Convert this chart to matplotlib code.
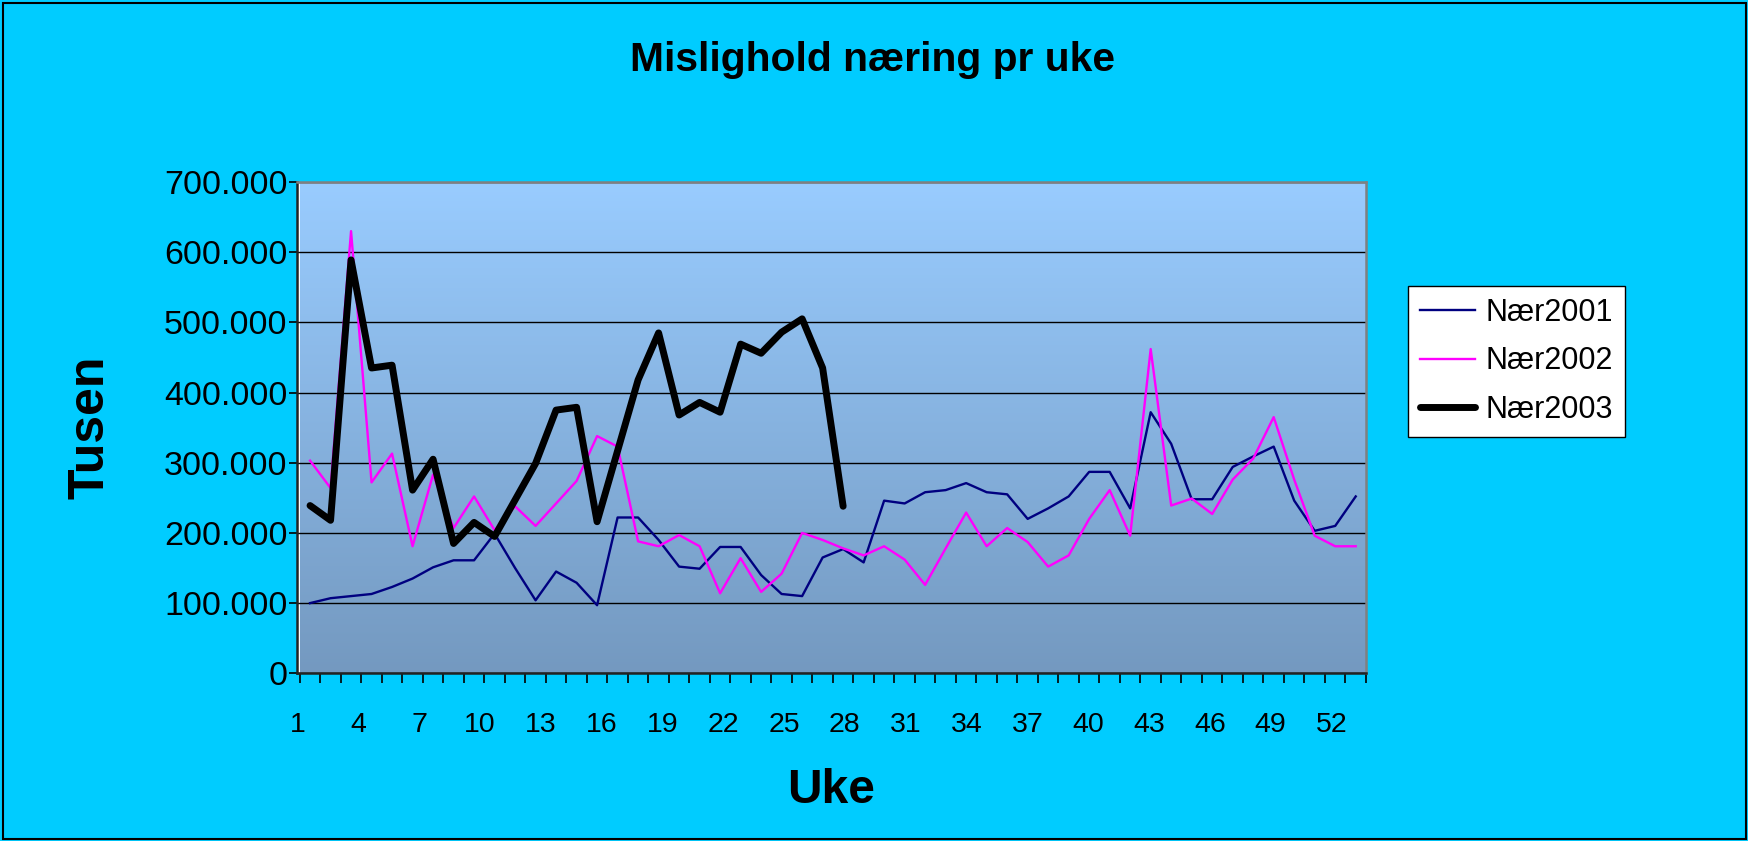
import numpy as np
import matplotlib
matplotlib.use('Agg')
import matplotlib.pyplot as plt
from matplotlib.colors import LinearSegmentedColormap
from matplotlib.patches import Rectangle
from matplotlib.ticker import FuncFormatter

# Data (tusen)
weeks = list(range(1, 53))
naer2001 = [100, 107, 110, 113, 123, 135, 151, 161, 161, 199, 150, 104, 145, 129,
            97, 222, 222, 190, 152, 149, 180, 180, 140, 113, 110, 165, 177, 158,
            246, 242, 258, 261, 271, 258, 255, 220, 235, 252, 287, 287, 235, 372,
            327, 248, 248, 294, 309, 323, 246, 203, 210, 252]
naer2002 = [303, 264, 630, 272, 313, 181, 283, 207, 252, 204, 238, 210, 242, 274,
            338, 323, 188, 181, 197, 181, 114, 164, 116, 142, 200, 190, 178, 168,
            181, 162, 126, 178, 229, 181, 207, 187, 152, 168, 220, 261, 196, 462,
            239, 249, 227, 276, 306, 365, 276, 196, 181, 181]
naer2003 = [239, 218, 589, 435, 439, 261, 305, 185, 215, 195, 247, 299, 375, 379,
            216, 317, 418, 485, 368, 386, 372, 469, 456, 486, 505, 435, 238]
series_names = ['Nær2001', 'Nær2002', 'Nær2003']
label_weeks = list(range(1, 53, 3))

plt.rcParams['font.family'] = ['Liberation Sans', 'DejaVu Sans']

fig = plt.figure(figsize=(17.49, 8.41), dpi=100, facecolor='#00CCFF')
ax = fig.add_axes([0.170, 0.1994, 0.611, 0.5842])

# bakgrunn med gradient
cmap = LinearSegmentedColormap.from_list('bg', ['#7499C0', '#99CCFF'])
ax.imshow(np.linspace(0, 1, 256).reshape(-1, 1), cmap=cmap, origin='lower',
          extent=[0.5, 52.5, 0, 700000], aspect='auto', zorder=0)

x1 = np.array(weeks[:len(naer2001)])
x3 = np.array(weeks[:len(naer2003)])
ax.plot(x1, np.array(naer2001) * 1000, color='#000080', lw=1.7, label=series_names[0], zorder=3)
ax.plot(x1, np.array(naer2002) * 1000, color='#FF00FF', lw=1.7, label=series_names[1], zorder=3)
ax.plot(x3, np.array(naer2003) * 1000, color='black', lw=5, label=series_names[2], zorder=4,
        solid_joinstyle='round', solid_capstyle='round')

ax.set_xlim(0.5, 52.5)
ax.set_ylim(0, 700000)
ax.set_yticks(np.arange(0, 700001, 100000))
ax.yaxis.set_major_formatter(FuncFormatter(lambda v, p: f'{int(v):,}'.replace(',', '.')))
ax.yaxis.grid(True, color='black', lw=1.0)
ax.set_axisbelow(True)
ax.tick_params(axis='y', direction='out', length=6, width=1.2, pad=1, labelsize=24.5)

# x-akse: streker mellom kategoriene, etiketter hver 3. uke
ax.set_xticks(np.arange(0.5, 53, 1), minor=True)
ax.set_xticks([0.38 + (w - 1) * 0.989 for w in label_weeks])
ax.set_xticklabels([str(w) for w in label_weeks])
ax.tick_params(axis='x', which='major', length=0, pad=28, labelsize=20.5)
ax.tick_params(axis='x', which='minor', direction='out', length=7, width=1.2)

for side in ['left', 'bottom']:
    ax.spines[side].set_color('#222222')
    ax.spines[side].set_linewidth(1.8)
for side in ['top', 'right']:
    ax.spines[side].set_color('#808080')
    ax.spines[side].set_linewidth(1.8)

fig.text(0.499, 0.929, 'Mislighold næring pr uke', ha='center', va='center',
         fontsize=29.3, fontweight='bold')
fig.text(0.052, 0.492, 'Tusen', ha='center', va='center', rotation=90,
         fontsize=36, fontweight='bold')
fig.text(0.475, 0.060, 'Uke', ha='center', va='center', fontsize=34.5, fontweight='bold')

leg = ax.legend(loc='upper left', bbox_to_anchor=(0.8049, 0.66), bbox_transform=fig.transFigure,
                borderaxespad=0, fancybox=False, framealpha=1, edgecolor='black',
                fontsize=22, handlelength=1.8, handletextpad=0.33, borderpad=0.4,
                labelspacing=0.6)
leg.get_frame().set_linewidth(1.0)

fig.patches.append(Rectangle((0.002, 0.002), 0.996, 0.995, transform=fig.transFigure,
                             fill=False, edgecolor='black', lw=1.5))

plt.savefig('out.png', dpi=100, facecolor=fig.get_facecolor())
plt.close()
